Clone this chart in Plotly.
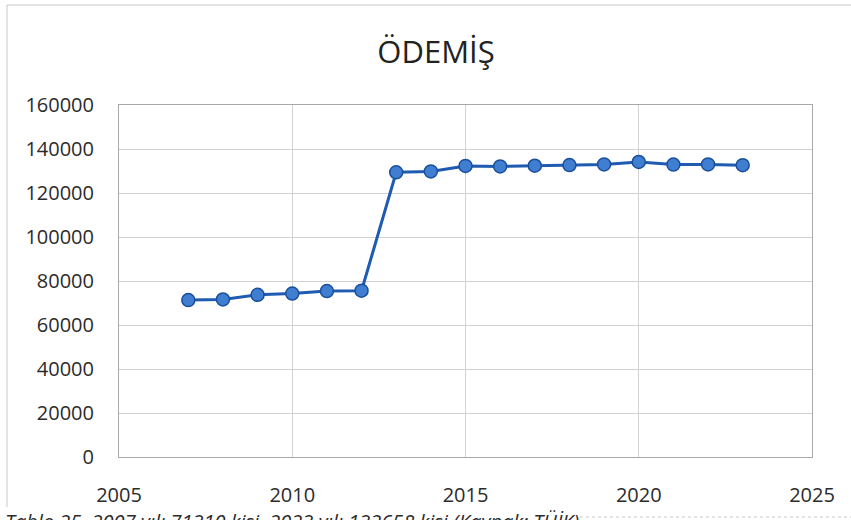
import plotly.graph_objects as go

years = [2007, 2008, 2009, 2010, 2011, 2012, 2013, 2014, 2015, 2016, 2017, 2018, 2019, 2020, 2021, 2022, 2023]
population = [71310, 71600, 73700, 74300, 75400, 75600, 129400, 129800, 132300, 132100, 132400, 132700, 133000, 134100, 132900, 133000, 132658]

x_ticks = [2005, 2010, 2015, 2020, 2025]
y_ticks = [0, 20000, 40000, 60000, 80000, 100000, 120000, 140000, 160000]

title_text = "ÖDEMİŞ"
caption_text = "Tablo 25. 2007 yılı 71310 kişi, 2023 yılı 132658 kişi (Kaynak: TÜİK)"

W, H = 851, 520
L, R, T, B = 119, 812, 105, 457


def px_x(p):
    return (p - L) / (R - L)


def px_y(p):
    return (B - p) / (B - T)


fig = go.Figure()
fig.add_trace(go.Scatter(
    x=years, y=population,
    mode="lines+markers",
    line=dict(color="#1f5bb0", width=3),
    marker=dict(size=13, color="#3f7ed0", line=dict(color="#1a4f9c", width=1.5)),
    showlegend=False,
))

grid = "#d2d2d2"
fig.update_layout(
    width=W, height=H,
    margin=dict(l=L, r=W - R, t=T, b=H - B),
    paper_bgcolor="white", plot_bgcolor="white",
    font=dict(family="Open Sans, Noto Sans, sans-serif", size=20, color="#2b2b2b"),
    title=dict(text=title_text, xref="container", x=436 / W, xanchor="center",
               yref="container", y=1 - 52 / H, yanchor="middle",
               font=dict(size=31, color="#222222")),
    xaxis=dict(range=[2005, 2025], tickvals=x_ticks, tickformat="d", showgrid=True, gridcolor=grid,
               zeroline=False, showline=True, linecolor="#a8a8a8", mirror=True,
               ticks="", ticklabelstandoff=20),
    yaxis=dict(range=[0, 160000], tickvals=y_ticks, tickformat="d", showgrid=True, gridcolor=grid,
               zeroline=False, showline=True, linecolor="#a8a8a8", mirror=True,
               ticks="", ticklabelstandoff=20),
)

# outer chart border (top and left edges visible in the scan)
fig.add_shape(type="line", xref="paper", yref="paper",
              x0=px_x(7), x1=px_x(851), y0=px_y(5), y1=px_y(5),
              line=dict(color="#c8c8c8", width=1))
fig.add_shape(type="line", xref="paper", yref="paper",
              x0=px_x(7), x1=px_x(7), y0=px_y(5), y1=px_y(507),
              line=dict(color="#c8c8c8", width=1))

# caption below the chart, partly cut by the page edge
fig.add_annotation(text="<i>" + caption_text + "</i>", xref="paper", yref="paper",
                   x=px_x(3), y=px_y(521), xanchor="left", yanchor="middle",
                   showarrow=False, font=dict(size=20, color="#2b2b2b"))
fig.add_shape(type="line", xref="paper", yref="paper",
              x0=px_x(580), x1=px_x(851), y0=px_y(517), y1=px_y(517),
              line=dict(color="#c8c8c8", width=1, dash="dot"))

# drop the default body margin so the figure sits at the window's corner
fig.write_html("out.html", config={"displayModeBar": False},
               post_script="document.body.style.margin='0';")
